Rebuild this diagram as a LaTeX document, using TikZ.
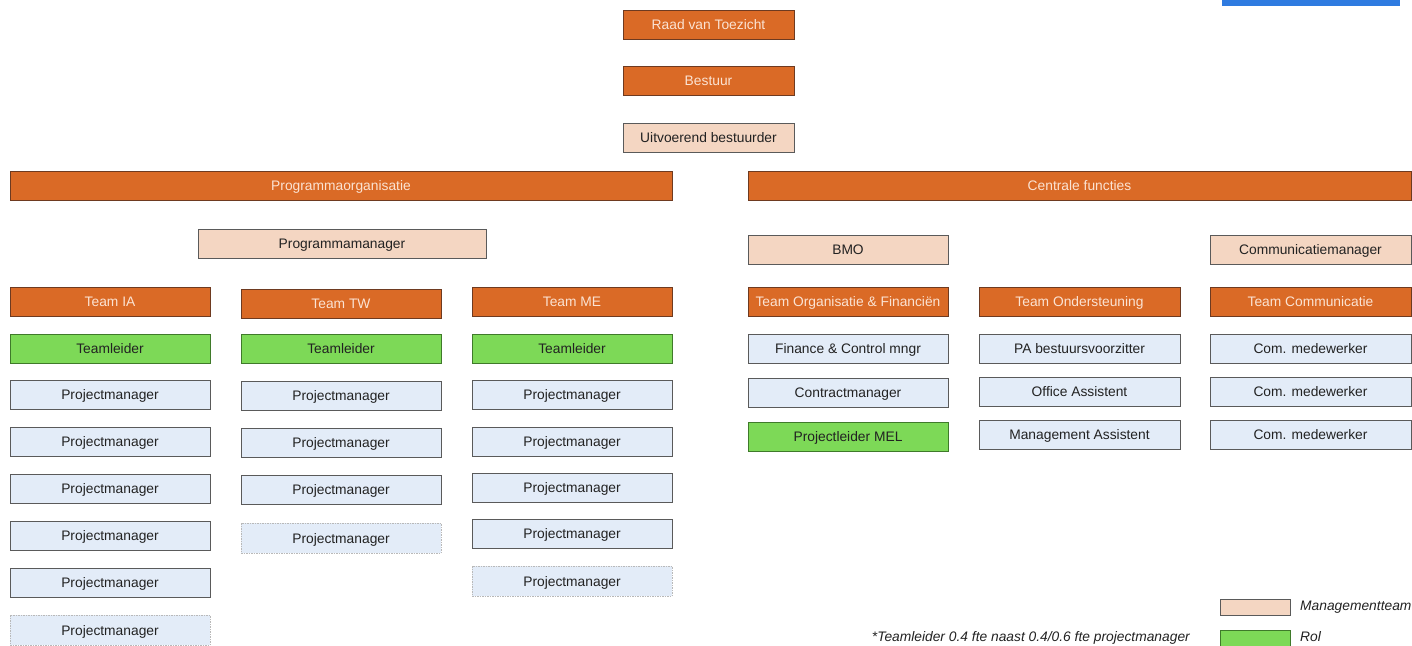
\documentclass[tikz,border=0pt]{standalone}
\usepackage{fontspec}
\setmainfont{Liberation Sans}
\definecolor{orng}{HTML}{DA6A26}
\definecolor{orngdk}{HTML}{6E3A20}
\definecolor{peach}{HTML}{F4D6C2}
\definecolor{grn}{HTML}{7DD957}
\definecolor{grndk}{HTML}{3F7A2A}
\definecolor{lblue}{HTML}{E3ECF8}
\definecolor{bord}{HTML}{5A5A5A}
\definecolor{txtdk}{HTML}{222222}
\definecolor{txtlt}{HTML}{FBE3D3}
\definecolor{blu}{HTML}{2F7BE0}
\newcommand\bx[7]{\node[#6, minimum width={(#4-#2)*1pt}, minimum height={(#5-#3)*1pt}] (#1) at ({(#2+#4)/2},{(#3+#5)/2}) {#7};}
\begin{document}
\begin{tikzpicture}[x=1pt,y=-1pt,
  base/.style={rectangle, inner sep=0pt, outer sep=0pt, line width=1pt, text height=10.5pt, text depth=0.5pt, font=\fontsize{13.8}{16}\selectfont},
  orbox/.style={base, fill=orng, draw=orngdk, text=txtlt},
  pcbox/.style={base, fill=peach, draw=bord, text=txtdk},
  gnbox/.style={base, fill=grn, draw=grndk, text=txtdk},
  lbbox/.style={base, fill=lblue, draw=bord, text=txtdk},
  lbdot/.style={base, fill=lblue, draw=gray!55, dash pattern=on 1.5pt off 1pt, text=txtdk},
  lgtxt/.style={inner sep=0pt, anchor=west, font=\fontsize{13.8}{16}\selectfont\itshape, text=txtdk}
]
\useasboundingbox (0,0) rectangle (1412,645);
\fill[white] (0,0) rectangle (1412,645);
% top blue tab (cut off)
\fill[blu] (1222,-2) rectangle (1400,6);
\coordinate (bluetab) at (1311,2);
% top chain
\bx{rvt}{623}{10}{794}{39}{orbox}{Raad van Toezicht}
\bx{bst}{623}{66}{794}{95}{orbox}{Bestuur}
\bx{uvb}{623}{123}{794}{152}{pcbox}{Uitvoerend bestuurder}
% main divisions
\bx{prog}{10}{171}{672}{200}{orbox}{Programmaorganisatie}
\bx{cent}{748}{171}{1411}{200}{orbox}{Centrale functies}
\bx{pmgr}{198}{229}{486}{258}{pcbox}{Programmamanager}
\bx{bmo}{748}{235}{948}{264}{pcbox}{BMO}
\bx{cmgr}{1210}{235}{1411}{264}{pcbox}{Communicatiemanager}
% teams
\bx{tia}{10}{287}{210}{316}{orbox}{Team IA}
\bx{ttw}{241}{289}{441}{318}{orbox}{Team TW}
\bx{tme}{472}{287}{672}{316}{orbox}{Team ME}
\bx{tof}{748}{287}{948}{316}{orbox}{Team Organisatie \& Financiën}
\bx{tos}{979}{287}{1180}{316}{orbox}{Team Ondersteuning}
\bx{tcm}{1210}{287}{1411}{316}{orbox}{Team Communicatie}
% team leaders
\bx{lia}{10}{334}{210}{363}{gnbox}{Teamleider}
\bx{ltw}{241}{334}{441}{363}{gnbox}{Teamleider}
\bx{lme}{472}{334}{672}{363}{gnbox}{Teamleider}
% IA
\bx{ia1}{10}{380}{210}{409}{lbbox}{Projectmanager}
\bx{ia2}{10}{427}{210}{456}{lbbox}{Projectmanager}
\bx{ia3}{10}{474}{210}{503}{lbbox}{Projectmanager}
\bx{ia4}{10}{521}{210}{550}{lbbox}{Projectmanager}
\bx{ia5}{10}{568}{210}{597}{lbbox}{Projectmanager}
\bx{ia6}{10}{615}{210}{645}{lbdot}{Projectmanager}
% TW
\bx{tw1}{241}{381}{441}{410}{lbbox}{Projectmanager}
\bx{tw2}{241}{428}{441}{457}{lbbox}{Projectmanager}
\bx{tw3}{241}{475}{441}{504}{lbbox}{Projectmanager}
\bx{tw4}{241}{523}{441}{553}{lbdot}{Projectmanager}
% ME
\bx{me1}{472}{380}{672}{409}{lbbox}{Projectmanager}
\bx{me2}{472}{427}{672}{456}{lbbox}{Projectmanager}
\bx{me3}{472}{473}{672}{502}{lbbox}{Projectmanager}
\bx{me4}{472}{519}{672}{548}{lbbox}{Projectmanager}
\bx{me5}{472}{566}{672}{596}{lbdot}{Projectmanager}
% Org & Fin
\bx{of1}{748}{334}{948}{363}{lbbox}{Finance \& Control mngr}
\bx{of2}{748}{378}{948}{407}{lbbox}{Contractmanager}
\bx{of3}{748}{422}{948}{451}{gnbox}{Projectleider MEL}
% Ondersteuning
\bx{os1}{979}{334}{1180}{363}{lbbox}{PA bestuursvoorzitter}
\bx{os2}{979}{377}{1180}{406}{lbbox}{Office Assistent}
\bx{os3}{979}{420}{1180}{449}{lbbox}{Management Assistent}
% Communicatie
\bx{cm1}{1210}{334}{1411}{363}{lbbox}{Com. medewerker}
\bx{cm2}{1210}{377}{1411}{406}{lbbox}{Com. medewerker}
\bx{cm3}{1210}{420}{1411}{449}{lbbox}{Com. medewerker}
% legend
\bx{lgm}{1220}{599}{1290}{615}{pcbox}{}
\bx{lgr}{1220}{630}{1290}{648}{gnbox}{}
\node[lgtxt] (lgmt) at (1300,607) {Managementteam};
\node[lgtxt] (lgrt) at (1300,637) {Rol};
\node[lgtxt, anchor=east] (note) at (1190,638) {*Teamleider 0.4 fte naast 0.4/0.6 fte projectmanager};
\end{tikzpicture}
\end{document}
